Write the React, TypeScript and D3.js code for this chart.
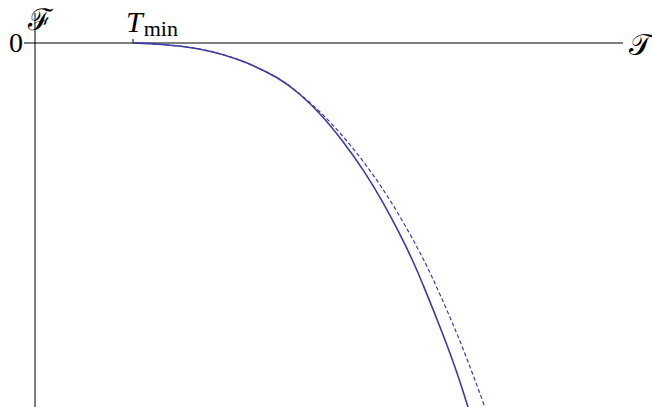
import React, { useEffect, useRef } from "react";
import * as d3 from "d3";

// free energy curves
const solidT = [1.0, 1.276, 1.684, 2.092, 2.5, 2.704, 2.908, 3.143, 3.367, 3.551, 3.724, 3.857, 3.949, 4.163, 4.306, 4.418, 4.52];
const solidF = [0, -0.01, -0.05, -0.16, -0.35, -0.51, -0.7, -0.98, -1.29, -1.59, -1.91, -2.18, -2.39, -2.91, -3.29, -3.64, -3.95];
const dashedT = [1.0, 1.276, 1.684, 2.092, 2.5, 2.704, 2.929, 3.189, 3.434, 3.638, 3.827, 3.974, 4.077, 4.311, 4.459, 4.592, 4.694];
const dashedF = [0, -0.01, -0.05, -0.16, -0.35, -0.51, -0.7, -0.98, -1.29, -1.59, -1.91, -2.18, -2.39, -2.91, -3.29, -3.64, -3.95];

const xTicks = [1];
const xTickLabels = ["T"];
const yTicks = [0];
const yTickLabels = ["0"];

const W = 652;
const H = 407;
const color = "#3c3ca0";
const font = "Liberation Serif, DejaVu Serif, serif";

export default function App() {
  const ref = useRef<SVGSVGElement>(null);

  useEffect(() => {
    document.body.style.margin = "0";
    const svg = d3.select(ref.current);
    svg.selectAll("*").remove();

    const x = d3.scaleLinear().domain([0, 6]).range([35, 623]);
    const y = d3.scaleLinear().domain([-3.64, 0]).range([407, 43]);

    svg
      .append("clipPath")
      .attr("id", "plot")
      .append("rect")
      .attr("x", x(0))
      .attr("y", 0)
      .attr("width", x(6) - x(0))
      .attr("height", H);

    // axes
    svg
      .append("line")
      .attr("x1", 24)
      .attr("x2", x(6))
      .attr("y1", y(0))
      .attr("y2", y(0))
      .attr("stroke", "black")
      .attr("stroke-width", 1);
    svg
      .append("line")
      .attr("x1", x(0))
      .attr("x2", x(0))
      .attr("y1", 13)
      .attr("y2", H)
      .attr("stroke", "black")
      .attr("stroke-width", 1);

    // x tick
    xTicks.forEach((t, i) => {
      svg
        .append("line")
        .attr("x1", x(t))
        .attr("x2", x(t))
        .attr("y1", y(0) - 4)
        .attr("y2", y(0))
        .attr("stroke", "black");
      const lab = svg
        .append("text")
        .attr("x", x(t) - 7)
        .attr("y", 32)
        .style("font-family", font)
        .style("font-size", "30px");
      lab.append("tspan").style("font-style", "italic").text(xTickLabels[i]);
      lab.append("tspan").style("font-size", "22px").attr("dy", 4).attr("dx", 1).text("min");
    });

    yTicks.forEach((t, i) => {
      svg
        .append("text")
        .attr("x", 23)
        .attr("y", y(t) + 9)
        .attr("text-anchor", "end")
        .style("font-family", font)
        .style("font-size", "28px")
        .text(yTickLabels[i]);
    });

    // axis names
    svg
      .append("text")
      .attr("x", 28)
      .attr("y", 30)
      .style("font-family", font)
      .style("font-size", "30px")
      .text("ℱ");
    svg
      .append("text")
      .attr("x", 629)
      .attr("y", 55)
      .style("font-family", font)
      .style("font-size", "30px")
      .text("𝒯");

    const line = d3
      .line<[number, number]>()
      .x((d) => x(d[0]))
      .y((d) => y(d[1]))
      .curve(d3.curveBasis);

    const g = svg.append("g").attr("clip-path", "url(#plot)");
    g.append("path")
      .attr("d", line(dashedT.map((t, i) => [t, dashedF[i]] as [number, number])))
      .attr("fill", "none")
      .attr("stroke", color)
      .attr("stroke-width", 1.2)
      .attr("stroke-dasharray", "4,2.5");
    g.append("path")
      .attr("d", line(solidT.map((t, i) => [t, solidF[i]] as [number, number])))
      .attr("fill", "none")
      .attr("stroke", color)
      .attr("stroke-width", 1.6);
  }, []);

  return (
    <svg
      ref={ref}
      width={W}
      height={H}
      style={{ display: "block", background: "white" }}
    />
  );
}
